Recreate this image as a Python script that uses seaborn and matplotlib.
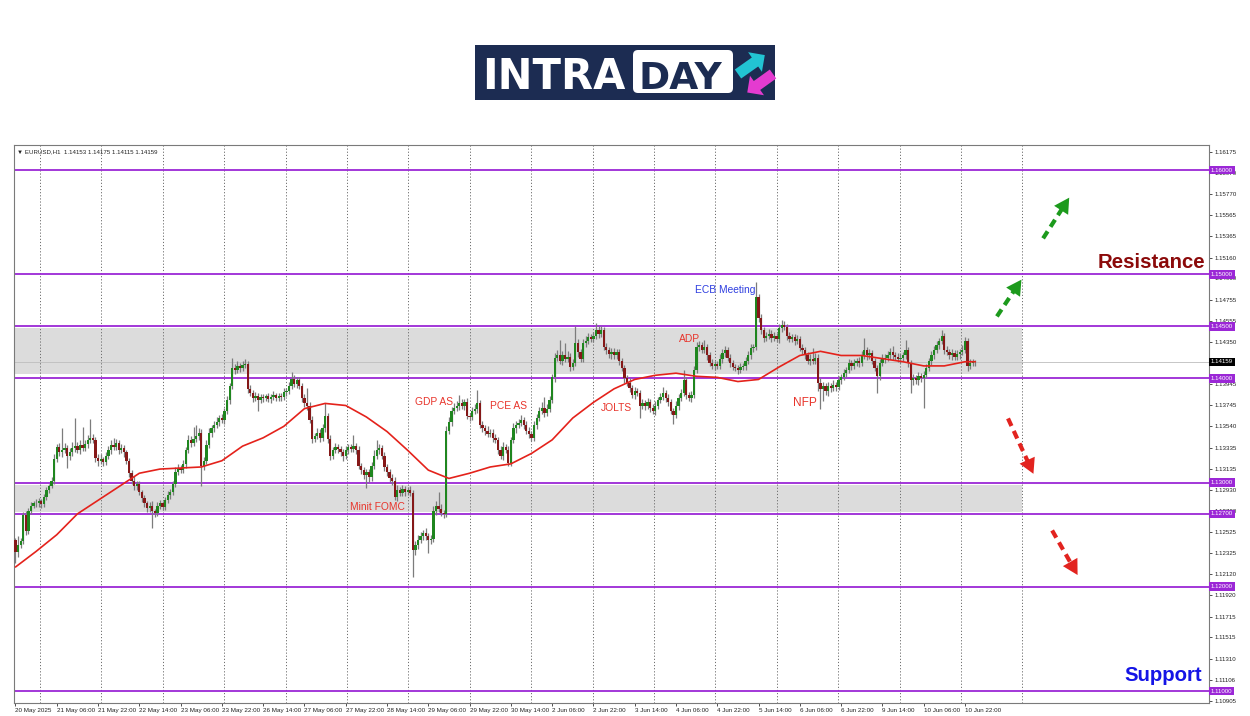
import numpy as np
import matplotlib
matplotlib.use("Agg")
import matplotlib.pyplot as plt
import matplotlib.transforms as mtransforms
from matplotlib.patches import Rectangle, FancyBboxPatch, FancyArrow
import seaborn as sns

# ------------------------------------------------------------------ data
header_text = "\u25BC EURUSD,H1  1.14153 1.14175 1.14115 1.14159"

first_open = 1.1245
closes = [
    1.1233, 1.1240, 1.1244, 1.1269, 1.1254, 1.1273, 1.1278, 1.1280, 1.1280, 1.1282, 1.1279, 1.1286, 1.1293, 1.1297, 1.1302, 1.1323,
    1.1334, 1.1329, 1.1331, 1.1333, 1.1326, 1.1329, 1.1333, 1.1335, 1.1331, 1.1336, 1.1333, 1.1337, 1.1341, 1.1343, 1.1341, 1.1324,
    1.1321, 1.1323, 1.1320, 1.1326, 1.1331, 1.1336, 1.1334, 1.1338, 1.1331, 1.1333, 1.1329, 1.1321, 1.1309, 1.1302, 1.1297, 1.1299,
    1.1291, 1.1285, 1.1280, 1.1276, 1.1278, 1.1273, 1.1271, 1.1278, 1.1280, 1.1277, 1.1283, 1.1288, 1.1291, 1.1299, 1.1310, 1.1314,
    1.1312, 1.1318, 1.1331, 1.1341, 1.1338, 1.1342, 1.1345, 1.1348, 1.1316, 1.1321, 1.1336, 1.1348, 1.1352, 1.1355, 1.1358, 1.1362,
    1.1360, 1.1369, 1.1379, 1.1393, 1.1410, 1.1408, 1.1412, 1.1410, 1.1413, 1.1414, 1.1390, 1.1386, 1.1381, 1.1383, 1.1379, 1.1382,
    1.1381, 1.1383, 1.1380, 1.1382, 1.1384, 1.1381, 1.1383, 1.1382, 1.1387, 1.1388, 1.1393, 1.1399, 1.1395, 1.1398, 1.1393, 1.1381,
    1.1376, 1.1374, 1.1360, 1.1342, 1.1345, 1.1348, 1.1343, 1.1352, 1.1364, 1.1342, 1.1326, 1.1331, 1.1334, 1.1332, 1.1329, 1.1326,
    1.1331, 1.1334, 1.1332, 1.1335, 1.1331, 1.1316, 1.1312, 1.1307, 1.1310, 1.1305, 1.1316, 1.1326, 1.1331, 1.1333, 1.1326, 1.1315,
    1.1310, 1.1304, 1.1302, 1.1286, 1.1293, 1.1290, 1.1294, 1.1291, 1.1293, 1.1290, 1.1235, 1.1240, 1.1245, 1.1249, 1.1252, 1.1249,
    1.1245, 1.1246, 1.1273, 1.1278, 1.1275, 1.1271, 1.1270, 1.1350, 1.1358, 1.1369, 1.1372, 1.1374, 1.1376, 1.1374, 1.1377, 1.1364,
    1.1363, 1.1369, 1.1371, 1.1376, 1.1355, 1.1352, 1.1350, 1.1347, 1.1348, 1.1343, 1.1341, 1.1331, 1.1326, 1.1334, 1.1331, 1.1319,
    1.1341, 1.1352, 1.1355, 1.1357, 1.1360, 1.1355, 1.1350, 1.1347, 1.1343, 1.1355, 1.1362, 1.1369, 1.1372, 1.1367, 1.1371, 1.1379,
    1.1401, 1.1420, 1.1422, 1.1417, 1.1422, 1.1419, 1.1421, 1.1411, 1.1415, 1.1434, 1.1425, 1.1419, 1.1434, 1.1436, 1.1440, 1.1438,
    1.1441, 1.1446, 1.1443, 1.1446, 1.1430, 1.1427, 1.1423, 1.1425, 1.1422, 1.1425, 1.1417, 1.1410, 1.1400, 1.1396, 1.1391, 1.1384,
    1.1388, 1.1386, 1.1374, 1.1376, 1.1374, 1.1377, 1.1372, 1.1369, 1.1374, 1.1379, 1.1382, 1.1386, 1.1381, 1.1377, 1.1369, 1.1365,
    1.1374, 1.1381, 1.1386, 1.1398, 1.1384, 1.1381, 1.1384, 1.1408, 1.1430, 1.1432, 1.1427, 1.1430, 1.1422, 1.1415, 1.1412, 1.1414,
    1.1412, 1.1419, 1.1424, 1.1427, 1.1420, 1.1415, 1.1411, 1.1410, 1.1408, 1.1411, 1.1412, 1.1417, 1.1422, 1.1429, 1.1430, 1.1478,
    1.1458, 1.1446, 1.1439, 1.1441, 1.1443, 1.1439, 1.1441, 1.1438, 1.1448, 1.1451, 1.1449, 1.1441, 1.1438, 1.1440, 1.1436, 1.1438,
    1.1429, 1.1427, 1.1422, 1.1417, 1.1419, 1.1417, 1.1420, 1.1396, 1.1390, 1.1393, 1.1388, 1.1393, 1.1391, 1.1394, 1.1392, 1.1398,
    1.1401, 1.1405, 1.1408, 1.1415, 1.1412, 1.1415, 1.1417, 1.1415, 1.1422, 1.1427, 1.1422, 1.1424, 1.1417, 1.1410, 1.1402, 1.1415,
    1.1419, 1.1420, 1.1422, 1.1425, 1.1422, 1.1421, 1.1419, 1.1420, 1.1422, 1.1427, 1.1415, 1.1398, 1.1400, 1.1398, 1.1402, 1.1400,
    1.1403, 1.1410, 1.1417, 1.1422, 1.1427, 1.1432, 1.1436, 1.1441, 1.1427, 1.1425, 1.1422, 1.1424, 1.1421, 1.1423, 1.1425, 1.1427,
    1.1436, 1.1412, 1.1415, 1.14153, 1.14159,
]
upper_wick_pips = [
    2, 9, 3, 3, 4, 3, 3, 2, 4, 3, 2, 3, 3, 2, 3, 4,
    3, 4, 21, 5, 3, 4, 6, 27, 4, 5, 17, 4, 5, 18, 4, 3,
    3, 4, 2, 3, 4, 5, 7, 4, 3, 4, 3, 2, 3, 3, 4, 3,
    3, 2, 3, 2, 3, 4, 2, 3, 3, 2, 3, 4, 3, 3, 5, 4,
    3, 4, 3, 5, 4, 11, 10, 4, 3, 4, 5, 4, 3, 4, 5, 3,
    4, 3, 4, 3, 10, 4, 5, 3, 4, 5, 3, 4, 3, 4, 3, 3,
    3, 2, 3, 3, 4, 2, 3, 3, 4, 3, 4, 7, 4, 3, 3, 3,
    4, 15, 3, 4, 3, 4, 3, 4, 12, 3, 4, 3, 4, 3, 3, 3,
    4, 3, 3, 11, 3, 4, 3, 3, 3, 3, 4, 5, 10, 4, 3, 3,
    3, 3, 4, 3, 5, 3, 4, 3, 3, 4, 3, 4, 5, 4, 3, 4,
    3, 4, 5, 4, 13, 4, 3, 4, 5, 4, 4, 4, 8, 4, 3, 4,
    3, 4, 4, 13, 3, 4, 3, 4, 3, 3, 4, 3, 4, 5, 3, 4,
    3, 5, 4, 4, 5, 3, 4, 3, 3, 4, 4, 4, 5, 10, 4, 4,
    3, 4, 5, 15, 4, 12, 5, 3, 4, 16, 4, 3, 4, 5, 4, 3,
    4, 7, 4, 4, 3, 4, 3, 4, 4, 3, 3, 3, 3, 3, 4, 3,
    4, 3, 3, 4, 3, 4, 3, 3, 4, 3, 4, 6, 3, 4, 3, 3,
    4, 4, 4, 10, 3, 3, 4, 4, 5, 4, 3, 7, 3, 3, 4, 3,
    3, 4, 4, 4, 3, 3, 3, 3, 3, 4, 3, 4, 4, 4, 3, 15,
    3, 4, 3, 4, 4, 3, 4, 3, 4, 5, 4, 3, 4, 3, 3, 4,
    3, 4, 3, 3, 4, 10, 4, 3, 4, 4, 3, 4, 3, 4, 3, 4,
    3, 4, 3, 4, 3, 4, 3, 4, 4, 12, 3, 4, 3, 3, 3, 4,
    4, 3, 4, 4, 6, 3, 3, 4, 3, 10, 3, 3, 4, 3, 4, 3,
    4, 4, 3, 4, 4, 4, 3, 5, 3, 4, 3, 4, 3, 4, 3, 5,
    4, 3, 4, 3, 1.6,
]
lower_wick_pips = [
    10, 4, 3, 3, 4, 3, 3, 2, 3, 3, 3, 2, 3, 3, 2, 3,
    3, 3, 4, 3, 12, 4, 3, 4, 3, 4, 3, 3, 4, 3, 3, 4,
    5, 3, 4, 3, 3, 4, 3, 3, 4, 3, 4, 3, 4, 3, 4, 4,
    3, 4, 3, 4, 4, 17, 4, 3, 3, 3, 3, 3, 4, 3, 3, 3,
    3, 3, 4, 3, 4, 3, 3, 4, 19, 4, 3, 3, 4, 3, 3, 4,
    3, 4, 3, 4, 3, 4, 3, 4, 3, 3, 4, 3, 4, 3, 10, 3,
    4, 3, 3, 4, 3, 3, 3, 4, 3, 4, 3, 3, 3, 4, 3, 4,
    3, 4, 3, 4, 3, 3, 4, 3, 3, 4, 4, 3, 3, 4, 3, 5,
    3, 4, 3, 3, 4, 3, 4, 4, 12, 4, 3, 3, 3, 4, 3, 4,
    4, 3, 4, 3, 4, 3, 3, 4, 3, 3, 26, 4, 4, 3, 4, 4,
    13, 4, 3, 4, 3, 3, 4, 3, 3, 4, 3, 3, 4, 3, 4, 3,
    4, 3, 3, 4, 3, 3, 4, 3, 3, 4, 3, 4, 3, 4, 3, 3,
    3, 3, 4, 3, 3, 4, 3, 4, 3, 3, 4, 3, 3, 4, 3, 3,
    3, 4, 3, 3, 4, 3, 3, 4, 3, 3, 4, 3, 3, 4, 3, 3,
    3, 3, 4, 3, 3, 4, 3, 4, 3, 3, 4, 3, 4, 3, 4, 3,
    4, 3, 12, 3, 4, 3, 4, 3, 4, 3, 3, 3, 4, 3, 3, 9,
    3, 4, 3, 3, 4, 3, 4, 3, 3, 4, 3, 3, 4, 3, 3, 4,
    3, 3, 4, 3, 3, 4, 3, 3, 4, 3, 3, 4, 3, 3, 4, 3,
    4, 3, 4, 3, 3, 4, 3, 3, 4, 3, 3, 4, 3, 3, 4, 3,
    3, 4, 3, 3, 4, 3, 3, 8, 19, 12, 4, 5, 4, 3, 4, 3,
    3, 3, 4, 3, 4, 3, 3, 4, 3, 3, 4, 3, 3, 3, 16, 4,
    3, 4, 3, 3, 4, 3, 3, 4, 3, 3, 4, 12, 4, 3, 4, 3,
    28, 3, 3, 4, 3, 3, 4, 3, 4, 3, 3, 4, 3, 3, 4, 3,
    3, 5, 3, 3, 3.8,
]

time_labels = ["20 May 2025", "21 May 06:00", "21 May 22:00", "22 May 14:00", "23 May 06:00",
               "23 May 22:00", "26 May 14:00", "27 May 06:00", "27 May 22:00", "28 May 14:00",
               "29 May 06:00", "29 May 22:00", "30 May 14:00", "2 Jun 06:00", "2 Jun 22:00",
               "3 Jun 14:00", "4 Jun 06:00", "4 Jun 22:00", "5 Jun 14:00", "6 Jun 06:00",
               "6 Jun 22:00", "9 Jun 14:00", "10 Jun 06:00", "10 Jun 22:00"]
bars_per_label = 16

ma_bars = list(range(0, 369, 8)) + [372]
ma_values = [1.1219, 1.1234, 1.1250, 1.1270, 1.1283, 1.1296, 1.1309, 1.1313, 1.1314, 1.1315,
             1.1321, 1.1335, 1.1343, 1.1354, 1.1371, 1.1376, 1.1374, 1.1363, 1.1349, 1.1331,
             1.1312, 1.1304, 1.1309, 1.1315, 1.1318, 1.1328, 1.1341, 1.1362, 1.1377, 1.1390,
             1.1399, 1.1403, 1.1405, 1.1402, 1.1401, 1.1397, 1.1399, 1.1411, 1.1422, 1.1426,
             1.1422, 1.1422, 1.1419, 1.1416, 1.1412, 1.1412, 1.1416, 1.1416]

level_prices = [1.16, 1.15, 1.145, 1.14, 1.13, 1.127, 1.12, 1.11]
zone_low = [1.1404, 1.1272]
zone_high = [1.1448, 1.1298]
zone_end_bar = 390.1
current_price = 1.14159

# 1.14150 sits under the current-price box in the reference and is not shown
price_tick_labels = ["1.16175", "1.15970", "1.15770", "1.15565", "1.15365", "1.15160", "1.14960",
                     "1.14755", "1.14555", "1.14350", "1.13945", "1.13745", "1.13540",
                     "1.13335", "1.13135", "1.12930", "1.12730", "1.12525", "1.12325", "1.12120",
                     "1.11920", "1.11715", "1.11515", "1.11310", "1.11106", "1.10905"]

event_names = ["ECB Meeting", "ADP", "GDP AS", "PCE AS", "JOLTS", "NFP", "Minit FOMC"]
event_bars = [275.0, 261.4, 162.2, 190.9, 232.8, 306.0, 140.1]
event_prices = [1.14845, 1.14374, 1.13770, 1.13731, 1.13712, 1.13760, 1.12762]

zone_titles = ["Resistance", "Support"]
zone_title_bars = [440.1, 444.8]
zone_title_prices = [1.15117, 1.11152]

up_arrows = [((380.4, 1.14595), (390.5, 1.14970)), ((398.3, 1.15344), (409.0, 1.15757))]
down_arrows = [((384.7, 1.13616), (395.0, 1.13060)), ((401.8, 1.12541), (412.2, 1.12090))]

# ------------------------------------------------------------------ style
sns.set_style("white")
plt.rcParams["font.family"] = ["Liberation Sans", "DejaVu Sans"]

PURPLE = "#9b27d6"
GREEN_BODY = "#1f861f"
RED_BODY = "#851818"
WICK = "#7c7c7c"
MA_RED = "#e4221b"
EVENT_RED = "#e8352c"
EVENT_BLUE = "#2f3fe0"

W, H = 1250, 716
fig = plt.figure(figsize=(W / 100, H / 100), dpi=100)
fig.patch.set_facecolor("white")
ax = fig.add_axes([14 / W, 13 / H, (1209 - 14) / W, (703 - 145) / H])

n = len(closes)
x = np.arange(n)
c = np.array(closes)
o = np.concatenate([[first_open], c[:-1]])
hi = np.maximum(o, c) + np.array(upper_wick_pips) * 1e-4
lo = np.minimum(o, c) - np.array(lower_wick_pips) * 1e-4

x_left, x_right = -0.58, 462.6
y_bot, y_top = 1.10885, 1.16240
ax.set_xlim(x_left, x_right)
ax.set_ylim(y_bot, y_top)

# zones
for zl, zh in zip(zone_low, zone_high):
    ax.add_patch(Rectangle((x_left, zl), zone_end_bar - x_left, zh - zl,
                           fc="#dcdcdc", ec="none", zorder=1))
# current price line
ax.axhline(current_price, color="#bdbdbd", lw=0.6, zorder=1.5)
# vertical dotted grid
for k in range(17):
    ax.axvline(9.5 + 23.8 * k, color="#6e6e6e", lw=0.7, ls=(0, (1.2, 2.0)), zorder=1.8)
# levels
for lv in level_prices:
    ax.axhline(lv, color=PURPLE, lw=1.3, zorder=2.2)

# candles
ax.vlines(x, lo, hi, color=WICK, lw=0.9, zorder=3)
body_lo = np.minimum(o, c)
body_h = np.maximum(np.abs(c - o), 0.00005)
colors = [GREEN_BODY if cc >= oo else RED_BODY for oo, cc in zip(o, c)]
ax.bar(x, body_h, bottom=body_lo, width=0.88, color=colors, linewidth=0, zorder=4)

# moving average (seaborn)
sns.lineplot(x=ma_bars, y=ma_values, ax=ax, color=MA_RED, lw=1.2, zorder=6)

# axes styling
for sp in ax.spines.values():
    sp.set_color("#7a7a7a")
    sp.set_linewidth(0.8)
ax.yaxis.tick_right()
ax.set_yticks([float(s) for s in price_tick_labels])
ax.set_yticklabels(price_tick_labels)
ax.set_xticks(np.arange(len(time_labels)) * bars_per_label)
ax.set_xticklabels(time_labels)
for lbl in ax.get_xticklabels():
    lbl.set_ha("left")
ax.tick_params(axis="y", which="both", right=True, left=False, length=2.5, width=0.6,
               pad=1.5, labelsize=4.4, colors="#333333", labelcolor="#222222")
ax.tick_params(axis="x", which="both", bottom=True, length=2.5, width=0.6,
               pad=1.0, labelsize=4.5, colors="#333333", labelcolor="#222222")
ax.set_xlabel("")
ax.set_ylabel("")
ax.grid(False)

trans = mtransforms.blended_transform_factory(ax.transAxes, ax.transData)
for lv in level_prices:
    ax.text(1.0015, lv, f"{lv:.5f}", transform=trans, ha="left", va="center",
            fontsize=4.4, color="white", zorder=10, clip_on=False,
            bbox=dict(boxstyle="square,pad=0.3", fc=PURPLE, ec="none"))
ax.text(1.0015, current_price, f"{current_price:.5f}", transform=trans, ha="left",
        va="center", fontsize=4.4, color="white", zorder=10, clip_on=False,
        bbox=dict(boxstyle="square,pad=0.3", fc="black", ec="none"))

# header
ax.text(0.0025, 0.993, header_text, transform=ax.transAxes, ha="left", va="top",
        fontsize=4.4, color="#222222", zorder=10)

# events
for name, b, p in zip(event_names, event_bars, event_prices):
    col = EVENT_BLUE if name == "ECB Meeting" else EVENT_RED
    fs = 8.6 if name == "NFP" else 7.4
    ax.text(b, p, name, ha="center", va="center", fontsize=fs, color=col, zorder=9)

# zone titles
ax.text(zone_title_bars[0], zone_title_prices[0], zone_titles[0], ha="center", va="center",
        fontsize=14.7, fontweight="bold", color="#8b0a0a", zorder=9)
ax.text(zone_title_bars[1], zone_title_prices[1], zone_titles[1], ha="center", va="center",
        fontsize=14.7, fontweight="bold", color="#1414e6", zorder=9)

# dashed arrows
def dashed_arrow(start, end, color):
    sx, sy = start
    ex, ey = end
    mx, my = sx + 0.78 * (ex - sx), sy + 0.78 * (ey - sy)
    ax.plot([sx, mx], [sy, my], color=color, lw=3.0, ls=(0, (2.0, 1.3)),
            solid_capstyle="butt", dash_capstyle="butt", zorder=9)
    ax.annotate("", xy=(ex, ey), xytext=(sx + 0.7 * (ex - sx), sy + 0.7 * (ey - sy)),
                arrowprops=dict(arrowstyle="-|>,head_length=0.9,head_width=0.5",
                                color=color, lw=0, mutation_scale=12), zorder=9)

for s, e in up_arrows:
    dashed_arrow(s, e, "#1c9a1c")
for s, e in down_arrows:
    dashed_arrow(s, e, "#e2231f")

# ------------------------------------------------------------------ logo
NAVY = "#1c2c52"
tr = fig.dpi_scale_trans
def px(xp, yp):
    return xp / 100.0, (H - yp) / 100.0

x0, y0 = px(475, 100)
fig.add_artist(Rectangle((x0, y0), 3.0, 0.55, transform=tr, fc=NAVY, ec="none"))
bx, by = px(633, 93)
fig.add_artist(FancyBboxPatch((bx, by), 1.0, 0.43, boxstyle="round,pad=0,rounding_size=0.05",
                              transform=tr, fc="white", ec="none"))
tx, ty = px(482, 89)
fig.text(tx, ty, "INTRA", transform=tr, ha="left", va="baseline", fontsize=30,
         fontweight="bold", color="white", family="DejaVu Sans")
tx, ty = px(638, 89)
fig.text(tx, ty, "DAY", transform=tr, ha="left", va="baseline", fontsize=27,
         fontweight="bold", color=NAVY, family="DejaVu Sans")
ax0, ay0 = px(738, 74)
fig.add_artist(FancyArrow(ax0, ay0, 0.17, 0.12, width=0.11, head_width=0.24,
                          head_length=0.12, length_includes_head=False,
                          transform=tr, fc="#22c4d3", ec="none"))
ax1, ay1 = px(773, 74)
fig.add_artist(FancyArrow(ax1, ay1, -0.16, -0.115, width=0.11, head_width=0.24,
                          head_length=0.12, length_includes_head=False,
                          transform=tr, fc="#e43bd0", ec="none"))

fig.savefig("out.png", dpi=100, facecolor="white")
